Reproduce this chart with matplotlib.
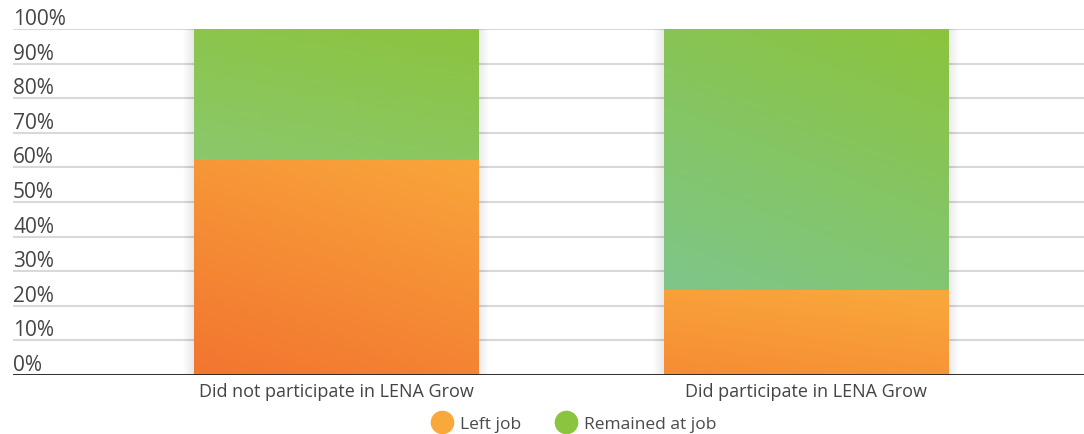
import numpy as np
import matplotlib
matplotlib.use("Agg")
import matplotlib.pyplot as plt
from matplotlib.colors import to_rgb
from matplotlib.lines import Line2D
from matplotlib.patches import Rectangle

categories = ["Did not participate in LENA Grow", "Did participate in LENA Grow"]
left_job = [62, 24.5]
remained = [38, 75.5]
series_names = ["Left job", "Remained at job"]
yticks = [0, 10, 20, 30, 40, 50, 60, 70, 80, 90, 100]

plt.rcParams['font.family'] = ['Open Sans', 'DejaVu Sans']

W, H = 1084, 435
fig = plt.figure(figsize=(W / 100, H / 100), dpi=100)
ax = fig.add_axes([13 / W, (H - 376) / H, (W - 13) / W, 346 / H])

x = np.arange(len(categories))
width = 0.605
ax.set_xlim(-0.688, 1.593)
ax.set_ylim(0, 100)

# grid lines + labels above the line
for t in yticks:
    ax.axhline(t, color='#d9d9d9', lw=1.5, zorder=0)
    ax.text(0, t, '%d%%' % t, transform=ax.get_yaxis_transform(), ha='left', va='bottom',
            fontsize=15, color='#444444', clip_on=False)
ax.axhline(0, color='#222222', lw=1.3, zorder=5)

# soft shadow behind bars
px_x = 1 / 469.5
px_y = 100 / 346
for i in range(len(categories)):
    for k in range(1, 12):
        r = Rectangle((x[i] - width / 2 - k * px_x, 0), width + 2 * k * px_x, 100 + k * px_y,
                      facecolor='black', alpha=0.006, lw=0, zorder=1)
        ax.add_patch(r)

b1 = ax.bar(x, left_job, width, color='#f68f35', zorder=2)
b2 = ax.bar(x, remained, width, bottom=left_job, color='#8bc44a', zorder=2)


def grad_fill(patch, c_bl, c_tr, n=60):
    x0, y0 = patch.get_x(), patch.get_y()
    w, h = patch.get_width(), patch.get_height()
    u, v = np.meshgrid(np.linspace(0, 1, n), np.linspace(0, 1, n))
    t = np.clip(0.3 * u + 0.7 * v, 0, 1)[..., None]
    a, b = np.array(to_rgb(c_bl)), np.array(to_rgb(c_tr))
    img = a * (1 - t) + b * t
    im = ax.imshow(img, extent=(x0, x0 + w, y0, y0 + h), origin='lower', aspect='auto',
                   interpolation='bilinear', zorder=3)
    im.set_clip_path(patch)


orange_ends = [('#f27530', '#f9a53b'), ('#f68c34', '#f9a93c')]
green_ends = [('#8bc86c', '#8bc43e'), ('#7fc68a', '#8bc43d')]
for i in range(len(categories)):
    grad_fill(b1[i], *orange_ends[i])
    grad_fill(b2[i], *green_ends[i])

ax.set_xlim(-0.688, 1.593)
ax.set_ylim(0, 100)
ax.set_xticks(x)
ax.set_xticklabels(categories, fontsize=13, color='#444444')
ax.tick_params(axis='x', length=0, pad=5)
ax.set_yticks([])
for s in ax.spines.values():
    s.set_visible(False)

handles = [Line2D([], [], marker='o', ls='', markersize=16, color='#f9a93b'),
           Line2D([], [], marker='o', ls='', markersize=16, color='#8bc43f')]
fig.legend(handles, series_names, loc='center', bbox_to_anchor=(574 / W, 1 - 425 / H),
           ncol=2, frameon=False, fontsize=12.5, labelcolor='#4a4a4a',
           handletextpad=0.45, columnspacing=2.0, handlelength=1.2)

fig.savefig('out.png', dpi=100)
